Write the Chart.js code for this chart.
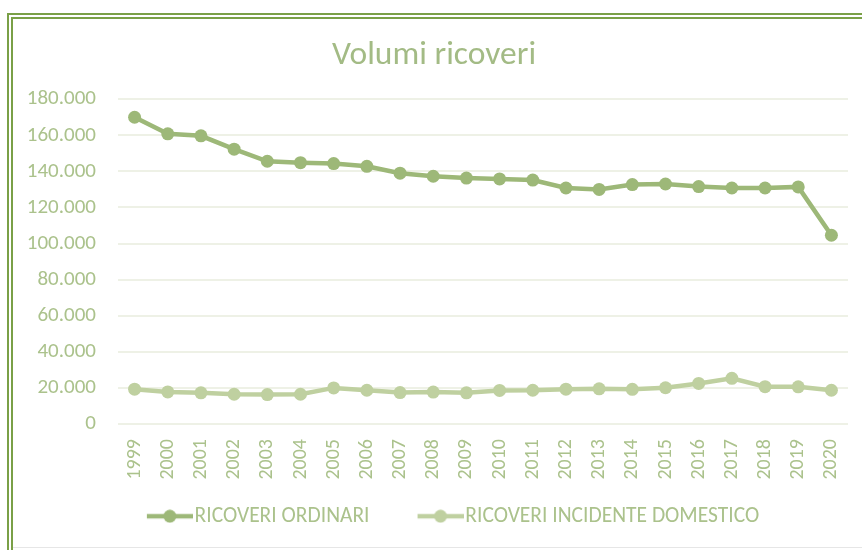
<!DOCTYPE html>
<html>
<head>
<meta charset="utf-8">
<script src="https://cdn.jsdelivr.net/npm/chart.js@4"></script>
<style>
html,body{margin:0;padding:0;background:#fff;}
#wrap{position:relative;width:862px;height:550px;overflow:hidden;}
#frame{position:absolute;left:7px;top:13px;width:900px;height:600px;border-top:6px double #7aa047;border-left:6px double #7aa047;box-sizing:border-box;}
#bottomline{position:absolute;left:13px;top:547px;width:900px;height:1px;background:#e6e6e6;}
canvas{position:absolute;left:0;top:0;}
</style>
</head>
<body>
<div id="wrap">
<canvas id="c" width="862" height="550"></canvas>
<div id="frame"></div>
<div id="bottomline"></div>
</div>
<script>
const years = ['1999','2000','2001','2002','2003','2004','2005','2006','2007','2008','2009','2010','2011','2012','2013','2014','2015','2016','2017','2018','2019','2020'];
const ricoveriOrdinari = [170000,160800,159700,152300,145600,144800,144300,142800,139000,137300,136300,135800,135200,130800,130000,132700,133000,131600,130800,130800,131400,104600];
const ricoveriIncidenteDomestico = [19300,17800,17300,16500,16300,16500,20000,18700,17400,17700,17300,18600,18700,19300,19500,19200,20100,22500,25300,20700,20600,18700];
const seriesNames = ['RICOVERI ORDINARI','RICOVERI INCIDENTE DOMESTICO'];
const yTicks = [0,20000,40000,60000,80000,100000,120000,140000,160000,180000];

const FONT = "Carlito, Lato, 'Open Sans', sans-serif";
const C1 = '#9db878';
const C2 = '#bfd0a0';
const TXT = '#abc28c';
const LEG_SIZE = 21.5;
const LEG_BOX = 75;

// legend icon: line + dot, right-aligned in an image wider than the legend box
function legendIcon(color){
  const W = Math.round(LEG_BOX + LEG_SIZE - 4);
  const cv = document.createElement('canvas');
  cv.width = W; cv.height = 14;
  const g = cv.getContext('2d');
  g.strokeStyle = color; g.lineWidth = 4.5;
  g.beginPath(); g.moveTo(W - 46, 7); g.lineTo(W, 7); g.stroke();
  g.fillStyle = color; g.beginPath(); g.arc(W - 23, 7, 6.5, 0, Math.PI * 2); g.fill();
  return cv;
}

new Chart(document.getElementById('c'), {
  type: 'line',
  data: {
    labels: years,
    datasets: [
      {label: seriesNames[0], data: ricoveriOrdinari, borderColor: C1, backgroundColor: C1, borderWidth: 4.5, pointRadius: 6.5, pointBackgroundColor: C1, pointBorderWidth: 0, tension: 0},
      {label: seriesNames[1], data: ricoveriIncidenteDomestico, borderColor: C2, backgroundColor: C2, borderWidth: 4.5, pointRadius: 6.5, pointBackgroundColor: C2, pointBorderWidth: 0, tension: 0}
    ]
  },
  options: {
    responsive: false,
    animation: false,
    layout: {padding: {left: 20, right: 14, top: 20, bottom: 13}},
    plugins: {
      title: {display: true, text: 'Volumi ricoveri', color: '#a3bb85', font: {family: FONT, size: 33.5, weight: 'normal'}, padding: {top: 16, bottom: 23}},
      legend: {
        position: 'bottom',
        labels: {
          color: TXT, font: {family: FONT, size: LEG_SIZE}, padding: 10, usePointStyle: true, pointStyleWidth: LEG_BOX, boxHeight: 14,
          generateLabels: (chart) => chart.data.datasets.map((ds, i) => ({
            text: ds.label, fontColor: TXT, pointStyle: legendIcon(ds.borderColor), datasetIndex: i, lineWidth: 0, strokeStyle: 'transparent', fillStyle: 'transparent'
          }))
        }
      },
      tooltip: {enabled: false}
    },
    scales: {
      x: {
        offset: true,
        grid: {display: false, drawTicks: false},
        border: {display: false},
        ticks: {color: TXT, font: {family: FONT, size: 20}, maxRotation: 90, minRotation: 90, padding: 15, autoSkip: false},
        afterFit: (s) => { s.height = 71.5; s.paddingRight = 0; s.paddingLeft = 0; }
      },
      y: {
        min: 0, max: 180000,
        afterBuildTicks: (s) => { s.ticks = yTicks.map(v => ({value: v})); },
        grid: {color: '#eef1e6', lineWidth: 2, drawTicks: false},
        border: {display: false},
        ticks: {color: TXT, font: {family: FONT, size: 21}, padding: 22,
          callback: (v) => v === 0 ? '0' : v.toLocaleString('it-IT').replace(/,/g,'.')},
        afterFit: (s) => { s.width = 98; }
      }
    }
  }
});
</script>
</body>
</html>
